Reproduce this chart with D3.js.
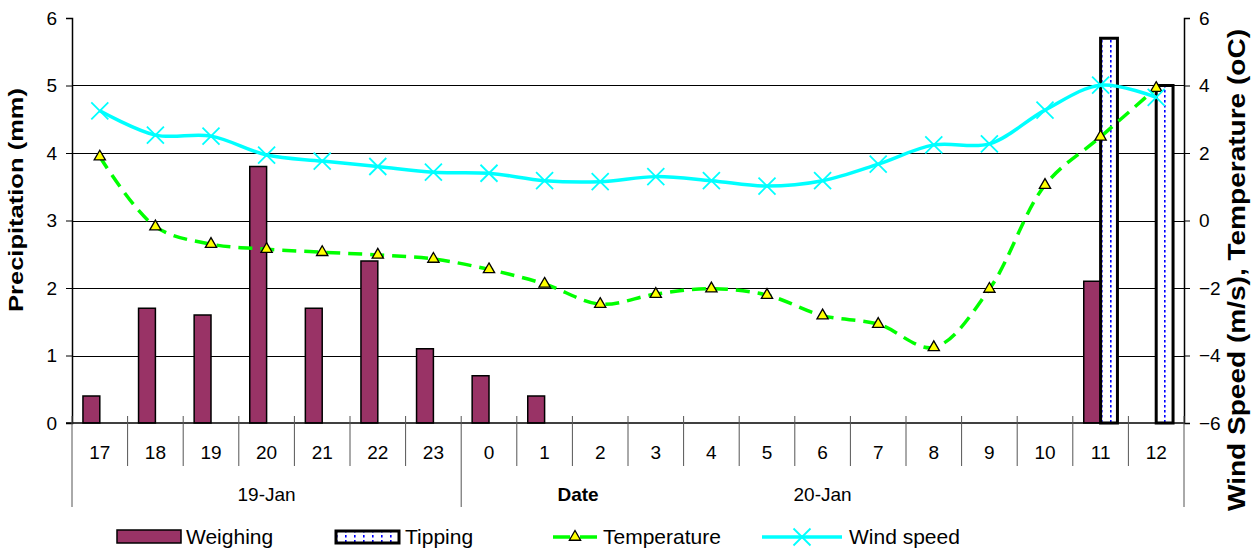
<!DOCTYPE html>
<html><head><meta charset="utf-8">
<script src="https://cdn.jsdelivr.net/npm/d3@7"></script>
<style>body{margin:0;background:#fff} svg{font-family:"Liberation Sans",Arial,sans-serif;display:block}</style>
</head><body>
<svg id="c" width="1251" height="550"></svg>
<script>
const categories = ["17","18","19","20","21","22","23","0","1","2","3","4","5","6","7","8","9","10","11","12"];
const dayGroups = ["19-Jan","20-Jan"];
const dayGroupSizes = [7,13];
const weighing = [0.4,1.7,1.6,3.8,1.7,2.4,1.1,0.7,0.4,0,0,0,0,0,0,0,0,0,2.1,0];
const tipping = [0,0,0,0,0,0,0,0,0,0,0,0,0,0,0,0,0,0,5.7,5.0];
const temperature = [1.89,-0.18,-0.70,-0.85,-0.94,-1.02,-1.14,-1.45,-1.88,-2.48,-2.18,-2.02,-2.21,-2.82,-3.07,-3.76,-2.03,1.05,2.48,3.92];
const windSpeed = [3.25,2.53,2.50,1.94,1.76,1.60,1.43,1.40,1.18,1.15,1.30,1.18,1.02,1.18,1.67,2.24,2.27,3.27,4.01,3.65];
const leftTicks = [0,1,2,3,4,5,6];
const rightTicks = [-6,-4,-2,0,2,4,6];
const seriesNames = ["Weighing","Tipping","Temperature","Wind speed"];

const svg = d3.select("#c");
const L = 72, R = 1184, T = 18, B = 423;
const x = d3.scaleBand().domain(categories).range([L, R]).padding(0);
const bw = x.bandwidth();
const yL = d3.scaleLinear().domain([0, 6]).range([B, T]);
const yR = d3.scaleLinear().domain([-6, 6]).range([B, T]);
const grp = bw * 2 / 3.3;
const xs = d3.scaleBand().domain(["Weighing","Tipping"]).range([(bw - grp) / 2, (bw + grp) / 2]);

// pattern for tipping bars
const defs = svg.append("defs");
const pat = defs.append("pattern").attr("id", "tip").attr("patternUnits", "userSpaceOnUse")
  .attr("width", 9).attr("height", 5).attr("x", 0).attr("y", 0);
pat.append("rect").attr("width", 9).attr("height", 5).attr("fill", "#fff");
pat.append("rect").attr("x", 3).attr("y", 0).attr("width", 1.6).attr("height", 2.5).attr("fill", "#0000ff");

// gridlines
svg.append("g").selectAll("line").data(leftTicks.filter(d => d > 0 && d < 6)).join("line")
  .attr("x1", L).attr("x2", R).attr("y1", d => Math.round(yL(d)) + 0.5).attr("y2", d => Math.round(yL(d)) + 0.5)
  .attr("stroke", "#000").attr("stroke-width", 1);

// left axis
const gl = svg.append("g").attr("transform", `translate(${L},0)`)
  .call(d3.axisLeft(yL).tickValues(leftTicks).tickSize(6).tickPadding(9).tickFormat(d3.format("d")));
gl.select(".domain").attr("stroke", "#000").attr("stroke-width", 1.5);
gl.selectAll("text").attr("font-size", 19).attr("fill", "#000").attr("font-family", "Liberation Sans, Arial, sans-serif");

// right axis
const gr = svg.append("g").attr("transform", `translate(${R},0)`)
  .call(d3.axisRight(yR).tickValues(rightTicks).tickSize(6).tickPadding(9).tickFormat(d3.format("d")));
gr.select(".domain").attr("stroke", "#000").attr("stroke-width", 1.5);
gr.selectAll("text").attr("font-size", 19).attr("fill", "#000").attr("font-family", "Liberation Sans, Arial, sans-serif");

// weighing bars
svg.append("g").selectAll("rect").data(categories.map((c, i) => ({c, v: weighing[i]})).filter(d => d.v > 0)).join("rect")
  .attr("x", d => x(d.c) + xs("Weighing")).attr("width", xs.bandwidth())
  .attr("y", d => yL(d.v)).attr("height", d => yL(0) - yL(d.v))
  .attr("fill", "#993366").attr("stroke", "#000").attr("stroke-width", 1.5);

// tipping bars
svg.append("g").selectAll("rect").data(categories.map((c, i) => ({c, v: tipping[i]})).filter(d => d.v > 0)).join("rect")
  .attr("x", d => x(d.c) + xs("Tipping")).attr("width", xs.bandwidth())
  .attr("y", d => yL(d.v)).attr("height", d => yL(0) - yL(d.v))
  .attr("fill", "url(#tip)").attr("stroke", "#000").attr("stroke-width", 3);

// x axis
const xa = svg.append("g");
xa.append("line").attr("x1", L - 6).attr("x2", R).attr("y1", B).attr("y2", B).attr("stroke", "#000").attr("stroke-width", 1.5);
const bounds = d3.range(1, categories.length);
const groupStarts = [0];
dayGroupSizes.forEach((s, i) => groupStarts.push(groupStarts[i] + s));
xa.selectAll("line.t").data(bounds.filter(b => !groupStarts.includes(b))).join("line").attr("class", "t")
  .attr("x1", b => x(categories[b])).attr("x2", b => x(categories[b]))
  .attr("y1", B - 7).attr("y2", B + 43).attr("stroke", "#555").attr("stroke-width", 1);
xa.selectAll("line.g").data(groupStarts).join("line").attr("class", "g")
  .attr("x1", b => b < categories.length ? x(categories[b]) : R).attr("x2", b => b < categories.length ? x(categories[b]) : R)
  .attr("y1", B - 7).attr("y2", B + 84).attr("stroke", "#555").attr("stroke-width", 1);
xa.selectAll("text.c").data(categories).join("text").attr("class", "c")
  .attr("x", d => x(d) + bw / 2).attr("y", B + 36).attr("text-anchor", "middle").attr("font-size", 19).text(d => d);
xa.selectAll("text.d").data(dayGroups).join("text").attr("class", "d")
  .attr("x", (d, i) => {
    const a = x(categories[groupStarts[i]]);
    const e = groupStarts[i + 1] < categories.length ? x(categories[groupStarts[i + 1]]) : R;
    return (a + e) / 2;
  })
  .attr("y", B + 78).attr("text-anchor", "middle").attr("font-size", 19).text(d => d);
svg.append("text").attr("x", 578).attr("y", B + 78).attr("text-anchor", "middle")
  .attr("font-size", 19).attr("font-weight", "bold").text("Date");

// axis titles
svg.append("text").attr("transform", `translate(23,200) rotate(-90)`).attr("text-anchor", "middle")
  .attr("font-size", 20).attr("font-weight", "bold")
  .attr("textLength", 224).attr("lengthAdjust", "spacingAndGlyphs").text("Precipitation (mm)");
svg.append("text").attr("transform", `translate(1245,270) rotate(-90)`).attr("text-anchor", "middle")
  .attr("font-size", 23).attr("font-weight", "bold")
  .attr("textLength", 482).attr("lengthAdjust", "spacingAndGlyphs").text("Wind Speed (m/s), Temperature (oC)");

// lines
const cx = i => x(categories[i]) + bw / 2;
const line = d3.line().x((d, i) => cx(i)).y(d => yR(d)).curve(d3.curveCatmullRom.alpha(0.5));
svg.append("path").attr("d", line(temperature)).attr("fill", "none").attr("stroke", "#00ff00")
  .attr("stroke-width", 3.5).attr("stroke-dasharray", "14,8");
svg.append("path").attr("d", line(windSpeed)).attr("fill", "none").attr("stroke", "#00ffff").attr("stroke-width", 3.5);

const tri = d3.symbol().type(d3.symbolTriangle).size(55);
svg.append("g").selectAll("path").data(temperature).join("path")
  .attr("transform", (d, i) => `translate(${cx(i)},${yR(d)})`).attr("d", tri())
  .attr("fill", "#ffff00").attr("stroke", "#000").attr("stroke-width", 1.3);
const xm = 8.5;
svg.append("g").selectAll("path").data(windSpeed).join("path")
  .attr("d", (d, i) => { const X = cx(i), Y = yR(d); return `M${X - xm},${Y - xm}L${X + xm},${Y + xm}M${X - xm},${Y + xm}L${X + xm},${Y - xm}`; })
  .attr("stroke", "#00ffff").attr("stroke-width", 1.8).attr("fill", "none");

// legend
const lg = svg.append("g");
const ly = 537;
lg.append("rect").attr("x", 117).attr("y", ly - 7).attr("width", 64).attr("height", 13).attr("fill", "#993366").attr("stroke", "#000").attr("stroke-width", 1.5);
lg.append("text").attr("x", 186).attr("y", ly + 7).attr("font-size", 21).text(seriesNames[0]);
lg.append("rect").attr("x", 336).attr("y", ly - 6).attr("width", 63).attr("height", 12).attr("fill", "url(#tip)").attr("stroke", "#000").attr("stroke-width", 3);
lg.append("text").attr("x", 405).attr("y", ly + 7).attr("font-size", 21).text(seriesNames[1]);
lg.append("line").attr("x1", 553).attr("x2", 597).attr("y1", ly).attr("y2", ly).attr("stroke", "#00ff00").attr("stroke-width", 3.5).attr("stroke-dasharray", "17,10");
lg.append("path").attr("transform", `translate(575,${ly})`).attr("d", tri()).attr("fill", "#ffff00").attr("stroke", "#000").attr("stroke-width", 1.3);
lg.append("text").attr("x", 603).attr("y", ly + 7).attr("font-size", 21).text(seriesNames[2]);
lg.append("line").attr("x1", 762).attr("x2", 842).attr("y1", ly).attr("y2", ly).attr("stroke", "#00ffff").attr("stroke-width", 3.5);
lg.append("path").attr("d", `M${802 - xm},${ly - xm}L${802 + xm},${ly + xm}M${802 - xm},${ly + xm}L${802 + xm},${ly - xm}`).attr("stroke", "#00ffff").attr("stroke-width", 1.8);
lg.append("text").attr("x", 849).attr("y", ly + 7).attr("font-size", 21).text(seriesNames[3]);
</script>
</body></html>
